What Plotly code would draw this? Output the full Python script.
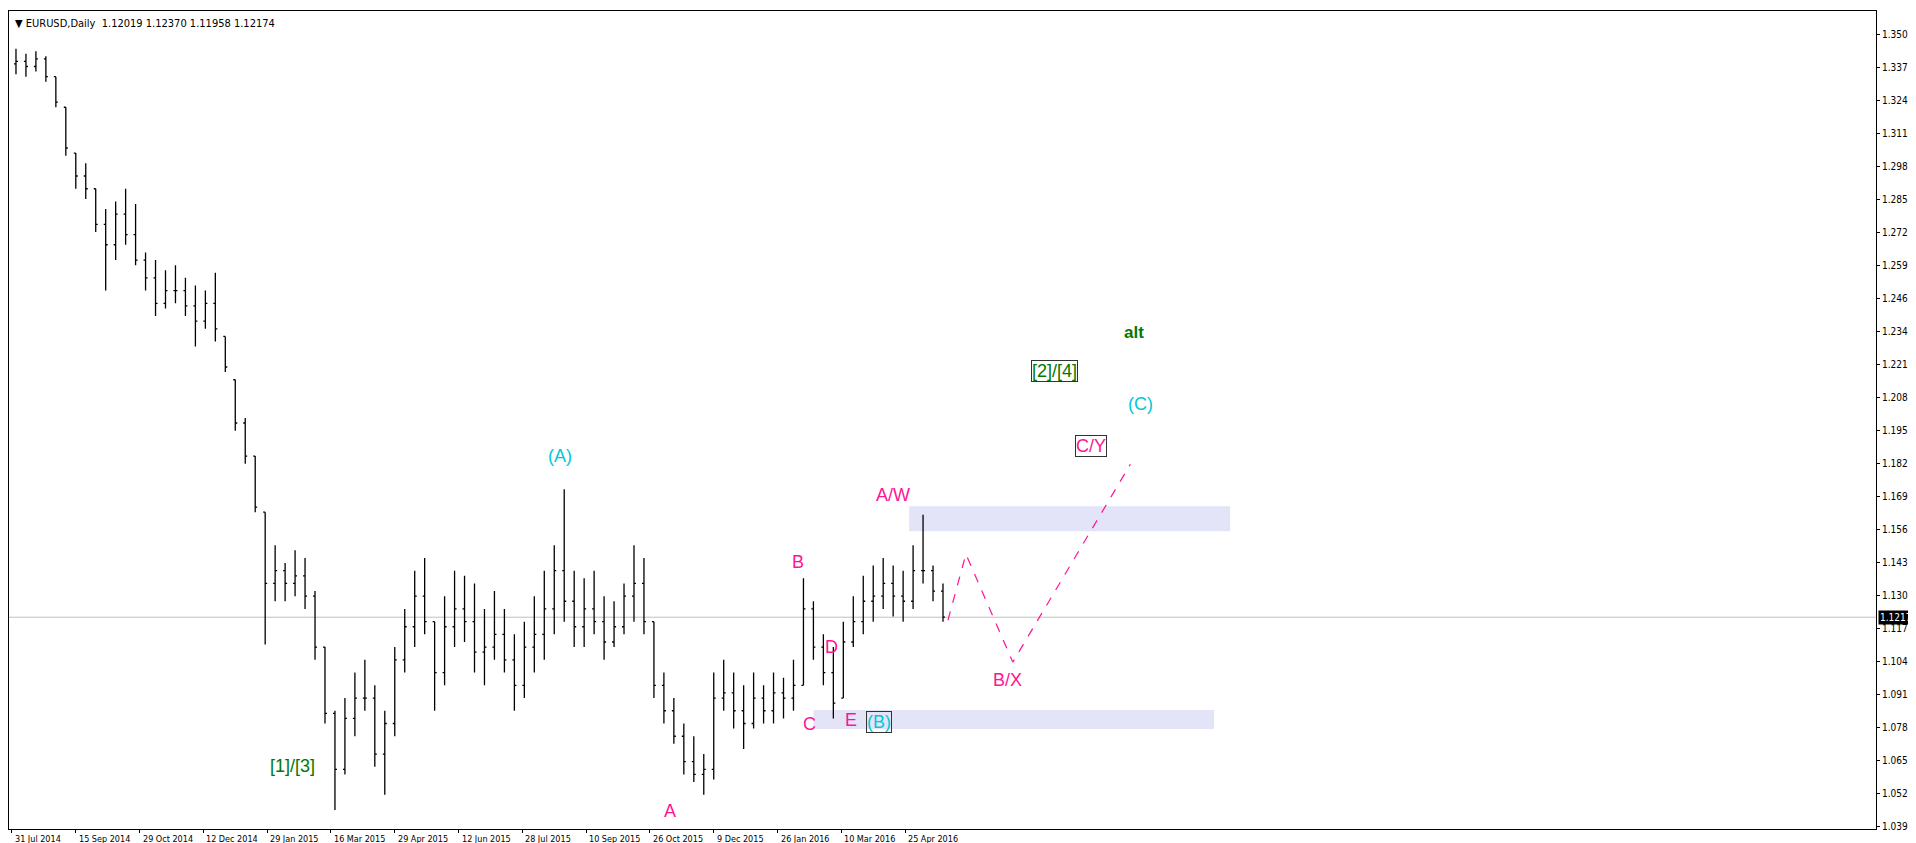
import plotly.graph_objects as go

highs = [1.345,1.343,1.344,1.342,1.334,1.322,1.304,1.300,1.290,1.282,
         1.285,1.290,1.284,1.265,1.262,1.258,1.260,1.255,1.252,1.250,
         1.257,1.232,1.215,1.200,1.185,1.163,1.150,1.143,1.148,1.145,
         1.132,1.110,1.085,1.090,1.100,1.105,1.095,1.085,1.110,1.125,
         1.140,1.145,1.120,1.130,1.140,1.138,1.135,1.125,1.132,1.125,
         1.115,1.120,1.130,1.140,1.150,1.172,1.140,1.137,1.140,1.130,
         1.128,1.135,1.150,1.145,1.120,1.100,1.090,1.080,1.075,1.068,
         1.100,1.105,1.100,1.095,1.100,1.095,1.100,1.098,1.105,1.137,
         1.128,1.115,1.110,1.120,1.130,1.138,1.142,1.145,1.142,1.140,
         1.150,1.162,1.142,1.135]
lows = [1.335,1.334,1.336,1.332,1.322,1.303,1.290,1.286,1.273,1.250,
        1.262,1.268,1.260,1.250,1.240,1.243,1.245,1.240,1.228,1.235,
        1.230,1.218,1.195,1.182,1.163,1.111,1.128,1.128,1.130,1.125,
        1.105,1.080,1.046,1.060,1.075,1.085,1.063,1.052,1.075,1.100,
        1.110,1.115,1.085,1.095,1.110,1.112,1.100,1.095,1.105,1.100,
        1.085,1.090,1.100,1.105,1.115,1.120,1.110,1.110,1.115,1.105,
        1.110,1.115,1.120,1.115,1.090,1.080,1.072,1.060,1.057,1.052,
        1.058,1.085,1.078,1.070,1.078,1.080,1.080,1.082,1.085,1.095,
        1.105,1.095,1.082,1.090,1.110,1.115,1.120,1.125,1.122,1.120,
        1.125,1.135,1.128,1.120]
closes = [1.340,1.338,1.341,1.334,1.324,1.306,1.295,1.290,1.276,1.268,
          1.280,1.272,1.262,1.255,1.245,1.250,1.250,1.244,1.238,1.245,
          1.235,1.220,1.198,1.185,1.165,1.135,1.140,1.135,1.138,1.130,
          1.110,1.084,1.062,1.082,1.090,1.090,1.068,1.080,1.105,1.118,
          1.130,1.120,1.100,1.118,1.125,1.120,1.108,1.110,1.115,1.105,
          1.095,1.110,1.115,1.125,1.140,1.128,1.118,1.125,1.120,1.112,
          1.118,1.130,1.135,1.120,1.095,1.085,1.075,1.065,1.060,1.062,
          1.090,1.092,1.085,1.080,1.090,1.085,1.092,1.090,1.095,1.125,
          1.110,1.100,1.088,1.112,1.120,1.128,1.130,1.135,1.130,1.128,
          1.140,1.140,1.132,1.12174]
bar_index = [5 * i + 2 for i in range(len(closes))]
opens = [min(max(c, l), h) for c, h, l in zip([1.339] + closes[:-1], highs, lows)]

date_labels = ["31 Jul 2014","15 Sep 2014","29 Oct 2014","12 Dec 2014","29 Jan 2015",
               "16 Mar 2015","29 Apr 2015","12 Jun 2015","28 Jul 2015","10 Sep 2015",
               "26 Oct 2015","9 Dec 2015","26 Jan 2016","10 Mar 2016","25 Apr 2016"]
date_pos = [32 * i for i in range(len(date_labels))]
price_ticks = [round(1.03975 + 0.01295 * i, 5) for i in range(25)]

path_x = [469.5, 478.5, 502, 561]
path_y = [1.1206, 1.1465, 1.1041, 1.1818]

labels = [
    ("A/W", 442, 1.1696, "#ff1493", False),
    ("B", 394.5, 1.1433, "#ff1493", False),
    ("D", 411, 1.1100, "#ff1493", False),
    ("C", 400, 1.0798, "#ff1493", False),
    ("E", 421, 1.0813, "#ff1493", False),
    ("(B)", 435, 1.0806, "#00c8d7", True),
    ("B/X", 499.5, 1.0970, "#ff1493", False),
    ("C/Y", 541, 1.1889, "#ff1493", True),
    ("(C)", 566, 1.2053, "#00c8d7", False),
    ("[2]/[4]", 523, 1.2183, "#007a00", True),
    ("(A)", 275, 1.1849, "#00c8d7", False),
    ("[1]/[3]", 140.5, 1.0633, "#007a00", False),
    ("A", 330, 1.0456, "#ff1493", False),
]

fig = go.Figure()
fig.add_trace(go.Ohlc(x=bar_index, open=opens, high=highs, low=lows, close=closes,
                      increasing=dict(line=dict(color="black", width=1.3)),
                      decreasing=dict(line=dict(color="black", width=1.3)),
                      tickwidth=0.2, showlegend=False, hoverinfo="skip"))
fig.add_trace(go.Scatter(x=path_x, y=path_y, mode="lines",
                         line=dict(color="#ff1493", width=1.2, dash="dash"),
                         showlegend=False, hoverinfo="skip"))

fig.add_shape(type="rect", x0=450, x1=611, y0=1.1555, y1=1.1653,
              fillcolor="#e3e4f8", line_width=0, layer="below")
fig.add_shape(type="rect", x0=402, x1=603, y0=1.0778, y1=1.0853,
              fillcolor="#e3e4f8", line_width=0, layer="below")
fig.add_shape(type="line", x0=0, x1=1, xref="paper", y0=1.12174, y1=1.12174,
              line=dict(color="#c0c0c0", width=1), layer="below")

for t, x, y, c, box in labels:
    fig.add_annotation(x=x, y=y, text=t, showarrow=False,
                       font=dict(family="Liberation Sans", size=18, color=c),
                       bordercolor="#333" if box else None, borderwidth=1 if box else 0,
                       borderpad=0)
fig.add_annotation(x=563, y=1.2336, text="<b>alt</b>", showarrow=False,
                   font=dict(family="Liberation Sans", size=17, color="#007a00"))

for lab, p in zip(date_labels, date_pos):
    fig.add_annotation(x=p, y=0, yref="paper", yshift=-3, text=lab, showarrow=False,
                       xanchor="left", yanchor="top", xshift=1,
                       font=dict(family="DejaVu Sans Condensed", size=9, color="black"))

fig.add_annotation(x=1, xref="paper", y=1.12174, text="1.12174", showarrow=False,
                   xanchor="left", xshift=2, bgcolor="black", borderpad=1,
                   font=dict(family="DejaVu Sans Condensed", size=10, color="white"))
fig.add_annotation(x=0, xref="paper", y=1, yref="paper", yshift=-4, xshift=4,
                   text="▼ EURUSD,Daily  1.12019 1.12370 1.11958 1.12174",
                   showarrow=False, xanchor="left", yanchor="top",
                   font=dict(family="DejaVu Sans Condensed", size=11, color="black"))

fig.update_layout(
    width=1916, height=843, margin=dict(l=1, r=48, t=3, b=22),
    paper_bgcolor="white", plot_bgcolor="white",
    xaxis=dict(range=[-1.5, 935], tickvals=date_pos, ticktext=[""] * len(date_pos),
               ticks="outside", ticklen=3, tickcolor="black", showgrid=False,
               zeroline=False, rangeslider=dict(visible=False), showline=True,
               linecolor="black", mirror=True, fixedrange=True),
    yaxis=dict(range=[1.03857, 1.3598], side="right", tickvals=price_ticks,
               ticktext=[f"{v:.5f}" for v in price_ticks], ticks="outside", ticklen=3,
               tickcolor="black", showgrid=False, zeroline=False, showline=True,
               linecolor="black", mirror=True,
               tickfont=dict(family="DejaVu Sans Condensed", size=10, color="black")),
)
fig.write_html("out.html")
